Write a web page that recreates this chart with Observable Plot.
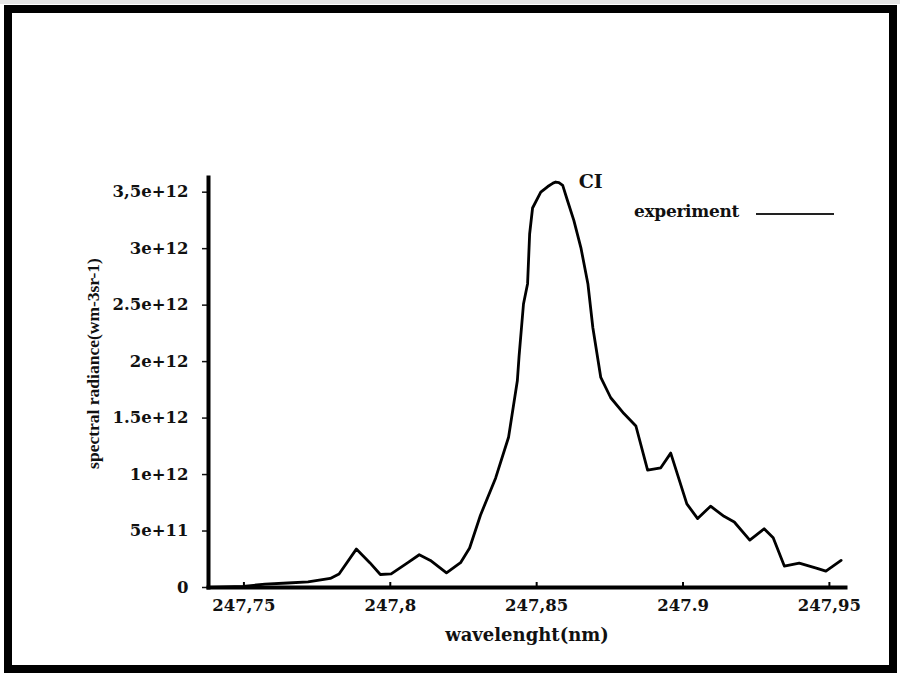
<!DOCTYPE html>
<html>
<head>
<meta charset="utf-8">
<script src="https://cdn.jsdelivr.net/npm/d3@7"></script>
<script src="https://cdn.jsdelivr.net/npm/@observablehq/plot@0.6"></script>
<style>
  html, body { margin: 0; padding: 0; background: #fff; }
  #wrap { position: relative; width: 900px; height: 673px; overflow: hidden; background: #fff; }
  #border { position: absolute; left: 4px; top: 5px; width: 893px; height: 668px; box-sizing: border-box; border: 8px solid #000; pointer-events: none; }
  #topgray { position: absolute; left: 0; top: 0; width: 900px; height: 4px; background: #e4e4e4; }
  #legend { position: absolute; left: 634px; top: 201px; font-family: "DejaVu Serif", serif; font-weight: bold; font-size: 17px; letter-spacing: -0.3px; color: #111; display: flex; align-items: center; }
  #legend .sw { display: inline-block; width: 78px; height: 0; border-top: 2px solid #222; margin-left: 17px; margin-top: 6px; }
  svg { position: absolute; left: 0; top: 0; }
</style>
</head>
<body>
<div id="wrap">
  <div id="topgray"></div>
  <div id="chart"></div>
  <div id="legend"><span>experiment</span><span class="sw"></span></div>
  <div id="border"></div>
</div>
<script>
// wavelength (nm)
const wavelength = [
  247.7379, 247.7497, 247.7572, 247.7650, 247.7719, 247.7795, 247.7825, 247.7884,
  247.7930, 247.7966, 247.8003, 247.8060, 247.8099, 247.8137, 247.8192, 247.8240,
  247.8271, 247.8308, 247.8360, 247.8404, 247.8434, 247.8440, 247.8455, 247.8469,
  247.8476, 247.8486, 247.8514, 247.8538, 247.8556, 247.8565, 247.8576, 247.8589,
  247.8606, 247.8627, 247.8651, 247.8675, 247.8692, 247.8719, 247.8753, 247.8798,
  247.8839, 247.8879, 247.8924, 247.8958, 247.9013, 247.9050, 247.9094, 247.9140,
  247.9175, 247.9228, 247.9277, 247.9308, 247.9346, 247.9397, 247.9458, 247.9488,
  247.9540
];
// spectral radiance (W m-3 sr-1)
const radiance = [
  0, 0.01e12, 0.03e12, 0.04e12, 0.05e12, 0.08e12, 0.12e12, 0.34e12,
  0.22e12, 0.115e12, 0.12e12, 0.22e12, 0.29e12, 0.24e12, 0.13e12, 0.22e12,
  0.35e12, 0.64e12, 0.97e12, 1.33e12, 1.83e12, 2.05e12, 2.51e12, 2.69e12,
  3.13e12, 3.36e12, 3.50e12, 3.55e12, 3.58e12, 3.59e12, 3.585e12, 3.56e12,
  3.42e12, 3.25e12, 3.01e12, 2.69e12, 2.30e12, 1.86e12, 1.68e12, 1.54e12,
  1.43e12, 1.04e12, 1.06e12, 1.19e12, 0.74e12, 0.61e12, 0.72e12, 0.63e12,
  0.58e12, 0.42e12, 0.52e12, 0.44e12, 0.19e12, 0.215e12, 0.17e12, 0.145e12,
  0.24e12
];

const xTicks = [247.75, 247.8, 247.85, 247.9, 247.95];
const xTickLabels = ["247,75", "247,8", "247,85", "247.9", "247,95"];
const yTicks = [0, 5e11, 1e12, 1.5e12, 2e12, 2.5e12, 3e12, 3.5e12];
const yTickLabels = ["0", "5e+11", "1e+12", "1.5e+12", "2e+12", "2.5e+12", "3e+12", "3,5e+12"];
const xDomain = [247.7379, 247.9555];
const yDomain = [0, 3.63e12];
const peakLabel = "CI";
const xLabel = "wavelenght(nm)";
const yLabel = "spectral radiance(wm-3sr-1)";

const data = wavelength.map((w, i) => ({w, r: radiance[i]}));
const peak = data.reduce((a, b) => (b.r > a.r ? b : a));

const serif = "DejaVu Serif, serif";

const chart = Plot.plot({
  width: 900,
  height: 673,
  marginLeft: 208,
  marginRight: 55,
  marginTop: 177,
  marginBottom: 86,
  style: {background: "transparent", color: "#111"},
  x: {domain: xDomain},
  y: {domain: yDomain},
  marks: [
    Plot.axisX(xTicks, {
      tickSize: 0, tickPadding: 12,
      tickFormat: d => xTickLabels[xTicks.indexOf(d)],
      fontFamily: serif, fontWeight: "bold", fontSize: 16.5, letterSpacing: "0.3px", label: null
    }),
    Plot.ruleX(xTicks, {x: d => d, insetTop: 405, stroke: "#000", strokeWidth: 2}),
    Plot.axisY(yTicks, {
      tickSize: 6, tickPadding: 14, strokeWidth: 1.5,
      tickFormat: d => yTickLabels[yTicks.indexOf(d)],
      fontFamily: serif, fontWeight: "bold", fontSize: 16.5, label: null
    }),
    Plot.frame({anchor: "left", stroke: "#000", strokeWidth: 4}),
    Plot.frame({anchor: "bottom", stroke: "#000", strokeWidth: 4}),
    Plot.line(data, {x: "w", y: "r", stroke: "#000", strokeWidth: 2.8, strokeLinejoin: "round"}),
    Plot.text([peak], {x: "w", y: "r", text: () => peakLabel, dx: 35, dy: 0,
      fontFamily: serif, fontWeight: "bold", fontSize: 19, fill: "#111"}),
    Plot.text([xLabel], {frameAnchor: "bottom", text: d => d, dy: 53, textAnchor: "middle",
      fontFamily: serif, fontWeight: "bold", fontSize: 18, letterSpacing: "0.2px", fill: "#111"}),
    Plot.text([yLabel], {frameAnchor: "left", text: d => d, rotate: -90, dx: -115, dy: -19, textAnchor: "middle",
      fontFamily: "Liberation Serif, serif", fontWeight: "bold", fontSize: 17.5, fill: "#111"})
  ]
});
document.getElementById("chart").appendChild(chart);
</script>
</body>
</html>
